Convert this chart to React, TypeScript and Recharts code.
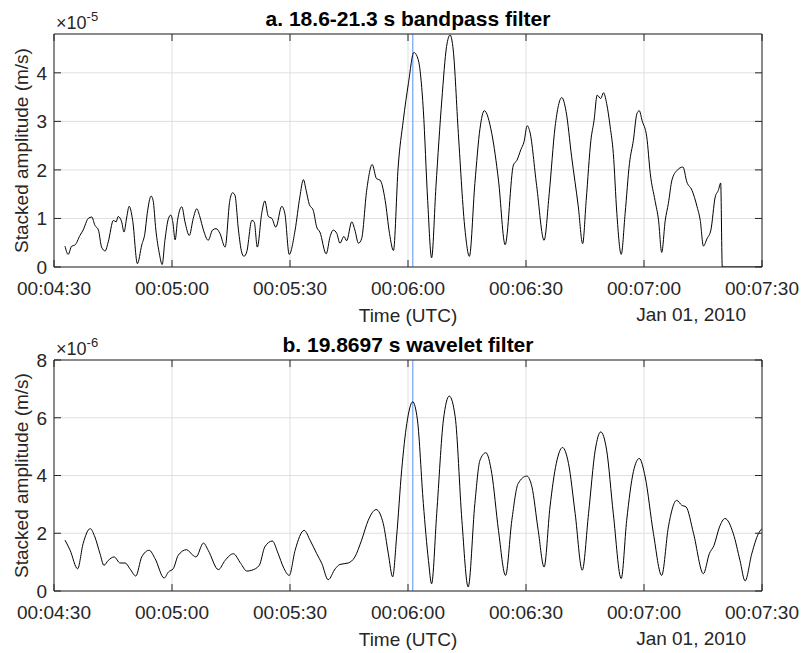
import React from 'react';
import { LineChart, Line, XAxis, YAxis, CartesianGrid, ReferenceLine } from 'recharts';

// time axis: seconds after midnight, Jan 01 2010 (UTC)
const xTicks = [270, 300, 330, 360, 390, 420, 450];
const eventTime = 361.2;

// a. 18.6-21.3 s bandpass, amplitude in 1e-5 m/s
const bandTime = [
  272.8, 273.6, 274.5, 275.3, 276.6, 277.4, 278.7, 279.6, 280.4, 281.3,
  282.1, 283.0, 283.8, 285.1, 285.8, 286.3, 287.2, 287.8, 288.5, 289.1,
  290.0, 291.2, 292.3, 293.1, 293.7, 294.7, 295.2, 295.9, 296.8, 297.5,
  298.2, 299.1, 299.7, 300.2, 300.8, 301.4, 302.5, 303.3, 304.4, 305.4,
  306.3, 307.1, 308.0, 309.2, 310.3, 311.2, 312.2, 313.5, 314.7, 315.4,
  316.0, 316.9, 317.7, 318.3, 319.0, 320.3, 320.9, 321.7, 322.8, 323.6,
  324.5, 325.4, 326.4, 327.9, 328.7, 329.8, 331.3, 332.5, 333.4, 334.1,
  334.9, 335.9, 336.8, 337.6, 339.2, 340.2, 341.0, 341.9, 342.7, 343.7,
  344.4, 345.7, 346.5, 347.4, 348.2, 349.5, 350.9, 352.0, 352.9, 354.2,
  355.3, 356.3, 357.5, 358.8, 360.1, 361.5, 362.6, 363.9, 365.0, 366.0,
  367.1, 368.6, 369.8, 370.7, 371.5, 372.8, 374.5, 375.6, 377.0, 378.3,
  379.4, 381.3, 383.0, 384.7, 386.8, 387.7, 388.7, 389.5, 390.3, 391.0,
  392.7, 394.6, 395.9, 397.4, 399.1, 400.2, 401.6, 403.3, 404.4, 405.3,
  406.5, 407.3, 408.1, 409.0, 409.7, 410.5, 411.4, 412.2, 413.1, 414.2,
  415.2, 416.3, 417.3, 418.2, 418.8, 419.5, 420.7, 421.6, 422.8, 423.7,
  424.5, 425.4, 426.2, 427.1, 428.4, 429.9, 430.9, 432.2, 433.5, 434.3,
  435.1, 436.0, 437.0, 438.1, 438.9, 439.5, 439.9, 450.0,
];
const bandAmp = [
  0.43, 0.26, 0.43, 0.45, 0.65, 0.76, 1.0, 1.03, 0.86, 0.76,
  0.41, 0.33, 0.52, 0.96, 0.93, 1.04, 0.93, 0.72, 1.03, 1.25,
  0.96, 0.07, 0.45, 0.69, 1.1, 1.46, 1.37, 0.76, 0.27, 0.05,
  0.55, 1.0, 1.07, 0.93, 0.56, 0.96, 1.24, 0.93, 0.65, 1.0,
  1.2, 1.03, 0.76, 0.55, 0.76, 0.79, 0.69, 0.41, 1.37, 1.53,
  1.48, 0.76, 0.31, 0.22, 0.31, 0.96, 0.93, 0.41, 1.1, 1.36,
  1.04, 1.0, 0.82, 1.25, 1.1, 0.26, 0.76, 1.44, 1.8, 1.58,
  1.29, 1.17, 0.82, 0.72, 0.27, 0.63, 0.76, 0.69, 0.49, 0.63,
  0.54, 0.93, 0.76, 0.49, 0.58, 1.58, 2.11, 1.82, 1.79, 1.37,
  0.69, 0.34, 2.06, 3.02, 3.78, 4.42, 4.27, 3.23, 1.37, 0.19,
  1.65, 3.44, 4.54, 4.78, 4.47, 2.75, 0.76, 0.22, 1.72, 2.85,
  3.22, 2.75, 1.79, 0.46, 2.1, 2.2, 2.42, 2.58, 2.91, 2.78,
  1.68, 0.55, 1.51, 2.89, 3.49, 3.2, 2.27, 1.24, 0.48, 1.37,
  2.61, 3.02, 3.54, 3.47, 3.59, 3.37, 2.89, 2.34, 1.1, 0.26,
  1.1, 2.13, 2.61, 3.16, 3.22, 3.02, 2.68, 1.92, 1.37, 0.96,
  0.3, 0.96, 1.31, 1.79, 1.99, 2.06, 1.75, 1.58, 1.24, 0.96,
  0.43, 0.58, 0.76, 1.44, 1.58, 1.73, 0, 0,
];
const bandTicks = [0, 1, 2, 3, 4];

// b. 19.8697 s wavelet, amplitude in 1e-6 m/s
const waveTime = [
  272.8, 274.1, 276.0, 277.4, 279.2, 280.4, 281.7, 282.7, 283.8, 285.3,
  286.8, 288.1, 289.3, 290.8, 292.3, 294.2, 295.7, 298.0, 299.1, 300.3,
  301.6, 303.7, 305.3, 306.1, 308.0, 309.2, 311.8, 313.5, 315.6, 317.5,
  319.0, 320.3, 322.2, 323.6, 325.5, 327.0, 328.3, 329.8, 331.3, 333.6,
  335.1, 336.8, 338.1, 339.7, 341.5, 342.7, 344.8, 346.5, 348.2, 349.9,
  351.9, 353.7, 355.0, 356.1, 357.1, 358.4, 359.7, 361.2, 362.4, 363.9,
  365.2, 366.0, 367.3, 369.0, 370.5, 372.0, 373.7, 375.3, 377.0, 378.3,
  379.8, 381.3, 383.0, 384.8, 386.4, 388.0, 390.2, 391.5, 393.1, 394.6,
  396.1, 397.7, 399.3, 400.8, 402.5, 404.3, 405.9, 407.6, 409.0, 410.5,
  412.2, 414.2, 415.6, 417.3, 418.8, 420.3, 422.4, 424.5, 426.2, 428.3,
  429.6, 430.7, 432.6, 435.1, 436.6, 437.8, 439.2, 440.6, 442.7, 444.4,
  445.7, 447.4, 449.1, 450.0,
];
const waveAmp = [
  1.76, 1.41, 0.77, 1.64, 2.16, 1.87, 1.29, 0.89, 1.06, 1.18,
  0.97, 0.97, 0.77, 0.52, 1.18, 1.41, 1.12, 0.45, 0.66, 0.77,
  1.24, 1.43, 1.24, 1.18, 1.66, 1.41, 0.74, 1.06, 1.29, 0.95,
  0.69, 0.72, 0.89, 1.53, 1.73, 1.29, 0.83, 0.54, 1.41, 2.1,
  1.76, 1.29, 0.95, 0.39, 0.77, 0.92, 0.97, 1.18, 1.76, 2.45,
  2.82, 2.34, 1.29, 0.49, 1.87, 4.2, 5.8, 6.55, 5.92, 3.03,
  1.06, 0.25, 2.68, 5.92, 6.75, 6.03, 2.45, 0.14, 3.03, 4.53,
  4.79, 4.07, 2.1, 0.54, 2.45, 3.72, 3.98, 3.61, 2.1, 0.83,
  2.91, 4.42, 4.97, 4.42, 2.68, 0.72, 2.68, 4.88, 5.51, 4.88,
  2.68, 0.43, 2.45, 4.13, 4.59, 3.95, 1.99, 0.54, 2.22, 3.14,
  2.97, 2.91, 1.99, 0.6, 1.29, 1.58, 2.22, 2.51, 1.99, 1.06,
  0.35, 1.29, 1.99, 2.16,
];
const waveTicks = [0, 2, 4, 6, 8];

const FONT = '"Liberation Sans", Arial, Helvetica, sans-serif';
const AXIS = '#262626';
const GRID = '#dfdfdf';
const EVENT = '#8ab4f8';
const TICK_LEN = 7;
const W = 802;
const PLOT_LEFT = 54;
const PLOT_RIGHT = 762;
const PLOT_TOP = 34;
const X_AXIS_H = 33;

function clock(s: number) {
  const m = Math.floor(s / 60);
  const sec = Math.round(s % 60);
  return `00:${String(m).padStart(2, '0')}:${String(sec).padStart(2, '0')}`;
}

const BottomTick = (p: any) => (
  <g>
    <line x1={p.x} y1={p.y} x2={p.x} y2={p.y - TICK_LEN} stroke={AXIS} />
    <text x={p.x} y={p.y + 28} textAnchor="middle" fontSize={19} fontFamily={FONT} fill={AXIS}>
      {clock(p.payload.value)}
    </text>
  </g>
);
const TopTick = (p: any) => (
  <line x1={p.x} y1={p.y} x2={p.x} y2={p.y + TICK_LEN} stroke={AXIS} />
);
const LeftTick = (p: any) => (
  <g>
    <line x1={p.x} y1={p.y} x2={p.x + TICK_LEN} y2={p.y} stroke={AXIS} />
    <text x={p.x - 7} y={p.y} dy="0.36em" textAnchor="end" fontSize={19} fontFamily={FONT} fill={AXIS}>
      {p.payload.value}
    </text>
  </g>
);
const RightTick = (p: any) => (
  <line x1={p.x} y1={p.y} x2={p.x - TICK_LEN} y2={p.y} stroke={AXIS} />
);

type PanelProps = {
  top: number;
  height: number;
  title: string;
  exp: string;
  time: number[];
  amp: number[];
  yMax: number;
  yTicks: number[];
};

function Panel({ top, height, title, exp, time, amp, yMax, yTicks }: PanelProps) {
  const data = time.map((t, i) => ({ t, v: amp[i] }));
  const plotBottom = height - X_AXIS_H;
  const midY = (PLOT_TOP + plotBottom) / 2;
  const midX = (PLOT_LEFT + PLOT_RIGHT) / 2;
  return (
    <div style={{ position: 'absolute', left: 0, top, width: W, height }}>
      <LineChart width={W} height={height} data={data} margin={{ top: 0, right: 0, bottom: 0, left: 0 }}>
        <CartesianGrid stroke={GRID} />
        <XAxis
          dataKey="t"
          type="number"
          domain={[270, 450]}
          ticks={xTicks}
          interval={0}
          height={X_AXIS_H}
          tickSize={0}
          tickMargin={0}
          stroke={AXIS}
          tick={BottomTick}
          allowDataOverflow
        />
        <XAxis
          xAxisId="top"
          orientation="top"
          dataKey="t"
          type="number"
          domain={[270, 450]}
          ticks={xTicks}
          interval={0}
          height={PLOT_TOP}
          tickSize={0}
          tickMargin={0}
          stroke={AXIS}
          tick={TopTick}
          allowDataOverflow
        />
        <YAxis
          type="number"
          domain={[0, yMax]}
          ticks={yTicks}
          interval={0}
          width={PLOT_LEFT}
          tickSize={0}
          tickMargin={0}
          stroke={AXIS}
          tick={LeftTick}
          allowDataOverflow
        />
        <YAxis
          yAxisId="right"
          orientation="right"
          type="number"
          domain={[0, yMax]}
          ticks={yTicks}
          interval={0}
          width={W - PLOT_RIGHT}
          tickSize={0}
          tickMargin={0}
          stroke={AXIS}
          tick={RightTick}
          allowDataOverflow
        />
        <ReferenceLine x={eventTime} stroke={EVENT} strokeWidth={1.5} />
        <Line
          type="monotone"
          dataKey="v"
          stroke="#000"
          strokeWidth={1}
          dot={false}
          isAnimationActive={false}
        />
      </LineChart>
      <svg
        width={W}
        height={height + 40}
        style={{ position: 'absolute', left: 0, top: 0, overflow: 'visible', pointerEvents: 'none' }}
        fontFamily={FONT}
      >
        <text x={midX} y={26} textAnchor="middle" fontWeight="bold" fontSize={21} fill="#000">
          {title}
        </text>
        <text x={56} y={29} fontSize={18} fill={AXIS}>
          ×10<tspan dy={-8} fontSize={13}>{exp}</tspan>
        </text>
        <text transform={`translate(28 ${midY}) rotate(-90)`} textAnchor="middle" fontSize={19} fill={AXIS}>
          Stacked amplitude (m/s)
        </text>
        <text x={midX} y={plotBottom + 55} textAnchor="middle" fontSize={19} fill={AXIS}>
          Time (UTC)
        </text>
        <text x={746} y={plotBottom + 54} textAnchor="end" fontSize={19} fill={AXIS}>
          Jan 01, 2010
        </text>
      </svg>
    </div>
  );
}

export default function App() {
  return (
    <div style={{ position: 'absolute', left: 0, top: 0, width: W, height: 653, background: '#fff' }}>
      <Panel
        top={0}
        height={300}
        title="a. 18.6-21.3 s bandpass filter"
        exp="-5"
        time={bandTime}
        amp={bandAmp}
        yMax={4.8}
        yTicks={bandTicks}
      />
      <Panel
        top={326}
        height={298}
        title="b. 19.8697 s wavelet filter"
        exp="-6"
        time={waveTime}
        amp={waveAmp}
        yMax={8}
        yTicks={waveTicks}
      />
    </div>
  );
}
